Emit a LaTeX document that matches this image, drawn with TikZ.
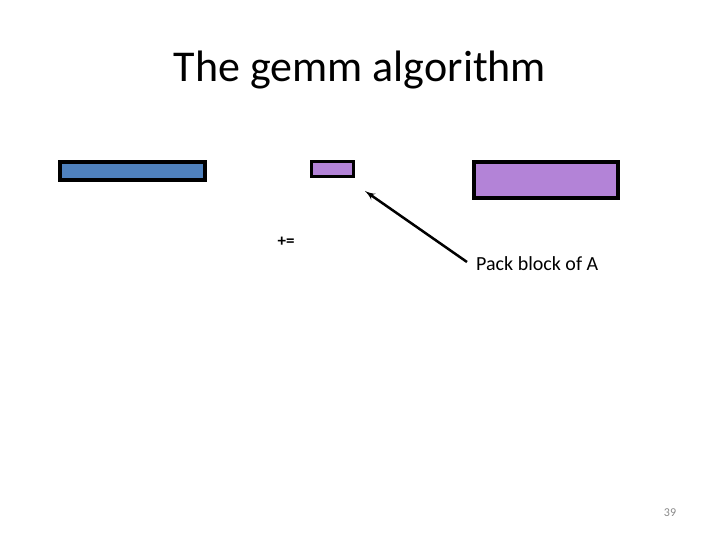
\documentclass[tikz,border=0pt]{standalone}
\usepackage{fontspec}
\setmainfont{Carlito}
\usetikzlibrary{arrows}
\definecolor{mblue}{RGB}{79, 129, 189}
\definecolor{mpurple}{RGB}{179, 131, 215}
\definecolor{mgray}{RGB}{137, 137, 137}
\tikzset{block/.style = {draw, line width = 4pt, inner sep = 0}}
\tikzset{lbl/.style = {inner sep = 0}}

\begin{document}
\begin{tikzpicture}[x=1pt, y=-1pt]
    \useasboundingbox (0, 0) rectangle (720, 540);

    \node [lbl, anchor=base] (title) at (360, 82) {\fontsize{44}{50}\selectfont The gemm algorithm};

    \node [block, fill=mblue, minimum width=145, minimum height=18] (Cblk) at (132.5, 171) {};
    \node [block, fill=mpurple, line width=3pt, minimum width=42, minimum height=15] (Ablk) at (332.5, 169) {};
    \node [block, fill=mpurple, minimum width=144, minimum height=36] (Bblk) at (546, 180) {};

    \node [lbl, anchor=base] (pluseq) at (286, 247) {\fontsize{17}{19}\selectfont\bfseries +=};

    \node [lbl, anchor=base west] (pack) at (476, 270) {\fontsize{20}{24}\selectfont Pack block of A};
    \coordinate (tail) at (467, 262);
    \coordinate (tip) at (365, 191);
    \draw [line width=2.5pt, -latex'] (tail) -- (tip);

    \node [lbl, anchor=base, text=mgray] (pagenum) at (670, 516) {\fontsize{12}{14}\selectfont 39};
  \end{tikzpicture}
\end{document}
